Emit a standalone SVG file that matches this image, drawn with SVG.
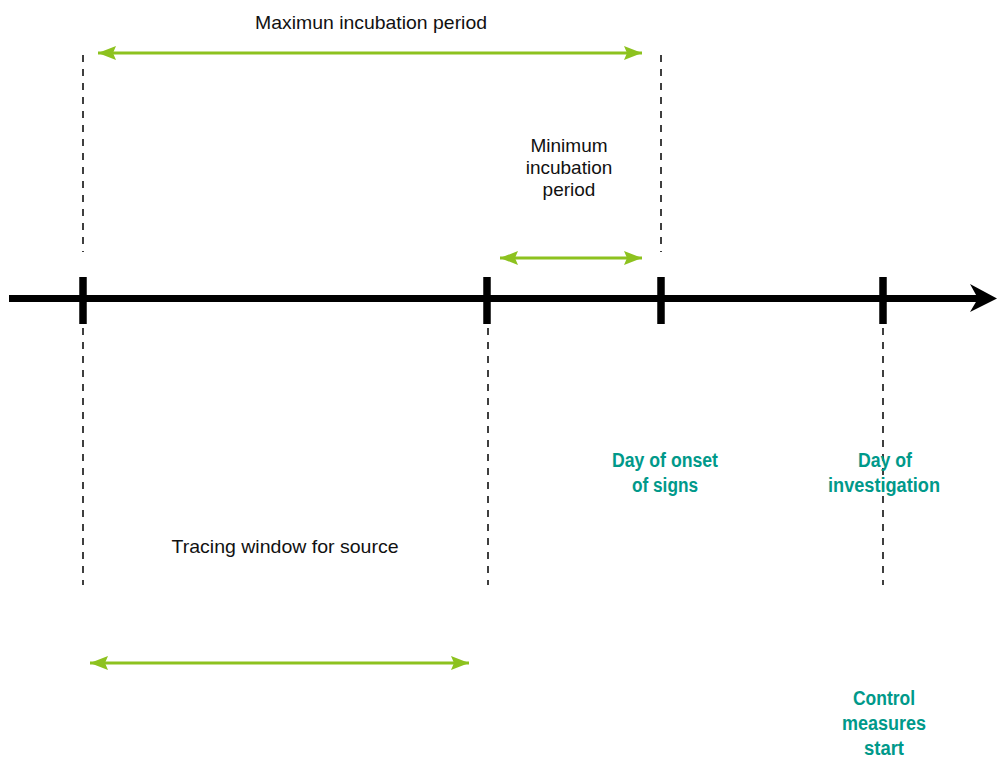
<svg xmlns="http://www.w3.org/2000/svg" width="997" height="758" viewBox="0 0 997 758">
  <style>
    .axis { stroke: #000; stroke-width: 7; fill: none; }
    .tick { stroke: #000; stroke-width: 7.5; }
    .guide { stroke: #000; stroke-width: 1.5; stroke-dasharray: 7 7; fill: none; }
    .span { stroke: #8dc21f; stroke-width: 3; fill: none; marker-start: url(#head-start); marker-end: url(#head-end); }
    .label { font-family: "Liberation Sans Narrow", "Liberation Sans", Arial, sans-serif; font-size: 19px; fill: #111; text-anchor: middle; }
    .event { font-family: "Liberation Sans Narrow", "Liberation Sans", Arial, sans-serif; font-size: 20px; font-weight: bold; fill: #00998a; text-anchor: middle; }
  </style>
  <defs>
    <marker id="head-end" markerUnits="userSpaceOnUse" markerWidth="20" markerHeight="16" refX="18" refY="7" orient="auto">
      <path d="M0,0 L18,7 L0,14 L3,7 Z" fill="#8dc21f"/>
    </marker>
    <marker id="head-start" markerUnits="userSpaceOnUse" markerWidth="20" markerHeight="16" refX="0" refY="7" orient="auto">
      <path d="M18,0 L0,7 L18,14 L15,7 Z" fill="#8dc21f"/>
    </marker>
  </defs>

  <rect width="997" height="758" fill="#fff"/>

  <!-- time axis -->
  <g id="axis">
    <line class="axis" x1="9" y1="298.5" x2="985" y2="298.5"/>
    <path d="M970,284 L997,298.5 L970,312 L978,298.5 Z" fill="#000"/>
  </g>

  <!-- ticks -->
  <g id="tick-exposure-earliest"><line class="tick" x1="83" y1="277" x2="83" y2="324"/></g>
  <g id="tick-exposure-latest"><line class="tick" x1="487" y1="277" x2="487" y2="324"/></g>
  <g id="tick-onset"><line class="tick" x1="661" y1="277" x2="661" y2="324"/></g>
  <g id="tick-investigation"><line class="tick" x1="883" y1="277" x2="883" y2="324"/></g>

  <!-- dashed guides and spans -->
  <g id="connectors">
    <line class="guide" x1="83" y1="55" x2="83" y2="252"/>
    <line class="guide" x1="661" y1="55" x2="661" y2="252"/>
    <line class="guide" x1="83" y1="328" x2="83" y2="585"/>
    <line class="guide" x1="488" y1="328" x2="488" y2="585"/>
    <line class="guide" x1="883" y1="328" x2="883" y2="585"/>

    <line class="span" x1="98" y1="53" x2="642" y2="53"/>
    <line class="span" x1="500" y1="258" x2="642" y2="258"/>
    <line class="span" x1="90" y1="663" x2="469" y2="663"/>
  </g>

  <!-- labels -->
  <g id="max-incubation"><text class="label" x="371" y="29" textLength="232" lengthAdjust="spacingAndGlyphs">Maximun incubation period</text></g>
  <g id="min-incubation">
    <text class="label" x="569" y="152">Minimum</text>
    <text class="label" x="569" y="174">incubation</text>
    <text class="label" x="569" y="196">period</text>
  </g>
  <g id="tracing-window"><text class="label" x="285" y="553" textLength="227" lengthAdjust="spacingAndGlyphs">Tracing window for source</text></g>
  <g id="onset">
    <text class="event" x="665" y="467" textLength="106" lengthAdjust="spacingAndGlyphs">Day of onset</text>
    <text class="event" x="665" y="492" textLength="66" lengthAdjust="spacingAndGlyphs">of signs</text>
  </g>
  <g id="investigation">
    <text class="event" x="885" y="467" textLength="54" lengthAdjust="spacingAndGlyphs">Day of</text>
    <text class="event" x="884" y="492" textLength="112" lengthAdjust="spacingAndGlyphs">investigation</text>
  </g>
  <g id="control">
    <text class="event" x="884" y="705" textLength="62" lengthAdjust="spacingAndGlyphs">Control</text>
    <text class="event" x="884" y="730" textLength="84" lengthAdjust="spacingAndGlyphs">measures</text>
    <text class="event" x="884" y="755" textLength="40" lengthAdjust="spacingAndGlyphs">start</text>
  </g>
</svg>
